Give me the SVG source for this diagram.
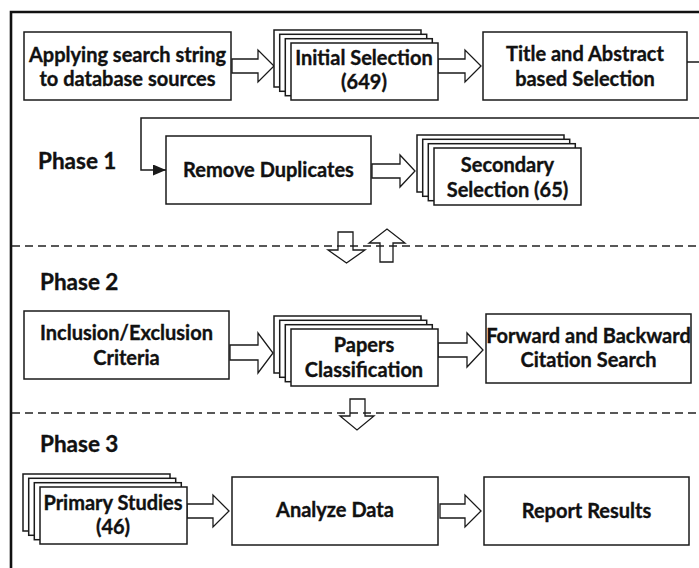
<svg xmlns="http://www.w3.org/2000/svg" width="699" height="568" viewBox="0 0 699 568">
  <style>
    .box { fill: #fff; stroke: #1a1a1a; stroke-width: 1.5; }
    .sheet { fill: #fff; stroke: #1a1a1a; stroke-width: 1.5; }
    .blk { fill: #fff; stroke: #1a1a1a; stroke-width: 1.3; stroke-linejoin: miter; }
    .vblk { fill: none; stroke: #1a1a1a; stroke-width: 1.3; }
    .lbl { font-family: Lato, "Open Sans", sans-serif; font-weight: 700; font-size: 20px; fill: #111; stroke: #111; stroke-width: 0.35; text-anchor: middle; }
    .phase { font-family: Lato, "Open Sans", sans-serif; font-weight: 700; font-size: 22.5px; fill: #111; stroke: #111; stroke-width: 0.35; }
    .dash { stroke: #222; stroke-width: 1.5; stroke-dasharray: 8 5; fill: none; }
    .conn { stroke: #1a1a1a; stroke-width: 1.5; fill: none; }
  </style>
  <defs>
    <marker id="tri" markerUnits="userSpaceOnUse" markerWidth="13" markerHeight="11" refX="13" refY="5.5" orient="auto">
      <path d="M0,0 L13,5.5 L0,11 z" fill="#1a1a1a"/>
    </marker>
    <!-- stack of four sheets, front sheet at origin -->
    <g id="stack">
      <rect class="sheet" x="-17" y="-13" width="147" height="57"/>
      <rect class="sheet" x="-11.3" y="-8.7" width="147" height="57"/>
      <rect class="sheet" x="-5.7" y="-4.3" width="147" height="57"/>
      <rect class="sheet" x="0" y="0" width="147" height="57"/>
    </g>
  </defs>

  <rect width="699" height="568" fill="#fff"/>

  <!-- outer frame -->
  <path d="M11,568 V12 H699" fill="none" stroke="#111" stroke-width="2.6"/>

  <!-- phase separators -->
  <line class="dash" x1="12" y1="246" x2="699" y2="246"/>
  <line class="dash" x1="12" y1="413" x2="699" y2="413"/>

  <!-- phase labels -->
  <text class="phase" x="38" y="169">Phase 1</text>
  <text class="phase" x="40" y="290">Phase 2</text>
  <text class="phase" x="40" y="452">Phase 3</text>

  <!-- connectors -->
  <g id="connectors">
    <path class="conn" d="M687,62 H706 V118 H141 V170 H166" marker-end="url(#tri)"/>
    <polygon class="blk" points="232,59 258,59 258,50 274,66 258,82 258,73 232,73"/>
    <polygon class="blk" points="438,59 465,59 465,50 481,66 465,82 465,73 438,73"/>
    <polygon class="blk" points="372,164 400,164 400,155 415,171 400,187 400,178 372,178"/>
    <polygon class="blk" points="230,345 258,345 258,333 273,353 258,373 258,360 230,360"/>
    <polygon class="blk" points="438,343 467,343 467,333 483,350 467,367 467,357 438,357"/>
    <polygon class="blk" points="187,504 213,504 213,495 229,511 213,527 213,518 187,518"/>
    <polygon class="blk" points="440,504 465,504 465,495 481,511 465,527 465,518 440,518"/>
    <polygon class="vblk" points="338,232 353,232 353,250 365,250 346.5,263 328,250 338,250"/>
    <polygon class="vblk" points="380,262 393,262 393,243 405,243 387,229 369,243 380,243"/>
    <polygon class="vblk" points="350,399 365,399 365,416 374,416 357,430 340,416 350,416"/>
  </g>

  <!-- Phase 1 -->
  <g id="apply">
    <rect class="box" x="24" y="32" width="207" height="68"/>
    <text class="lbl" x="127.5" y="62">Applying search string</text>
    <text class="lbl" x="127.5" y="86">to database sources</text>
  </g>
  <g id="initial">
    <use href="#stack" x="291" y="43"/>
    <text class="lbl" x="364" y="65">Initial Selection</text>
    <text class="lbl" x="364" y="89">(649)</text>
  </g>
  <g id="title-abstract">
    <rect class="box" x="483" y="32" width="204" height="68"/>
    <text class="lbl" x="585" y="61">Title and Abstract</text>
    <text class="lbl" x="585" y="86">based Selection</text>
  </g>
  <g id="duplicates">
    <rect class="box" x="166" y="136" width="205" height="68"/>
    <text class="lbl" x="268.5" y="177">Remove Duplicates</text>
  </g>
  <g id="secondary">
    <use href="#stack" x="434" y="148"/>
    <text class="lbl" x="507.5" y="172">Secondary</text>
    <text class="lbl" x="507.5" y="197">Selection (65)</text>
  </g>

  <!-- Phase 2 -->
  <g id="criteria">
    <rect class="box" x="24" y="311" width="205" height="68"/>
    <text class="lbl" x="126.5" y="340">Inclusion/Exclusion</text>
    <text class="lbl" x="126.5" y="365">Criteria</text>
  </g>
  <g id="classification">
    <use href="#stack" x="291" y="329"/>
    <text class="lbl" x="364" y="352">Papers</text>
    <text class="lbl" x="364" y="377">Classification</text>
  </g>
  <g id="citation">
    <rect class="box" x="486" y="314" width="205" height="69"/>
    <text class="lbl" x="588.5" y="343">Forward and Backward</text>
    <text class="lbl" x="588.5" y="367">Citation Search</text>
  </g>

  <!-- Phase 3 -->
  <g id="primary">
    <use href="#stack" x="40" y="487"/>
    <text class="lbl" x="113" y="510">Primary Studies</text>
    <text class="lbl" x="113" y="534">(46)</text>
  </g>
  <g id="analyze">
    <rect class="box" x="232" y="477" width="206" height="68"/>
    <text class="lbl" x="335" y="517">Analyze Data</text>
  </g>
  <g id="report">
    <rect class="box" x="484" y="477" width="205" height="68"/>
    <text class="lbl" x="586.5" y="518">Report Results</text>
  </g>
</svg>
